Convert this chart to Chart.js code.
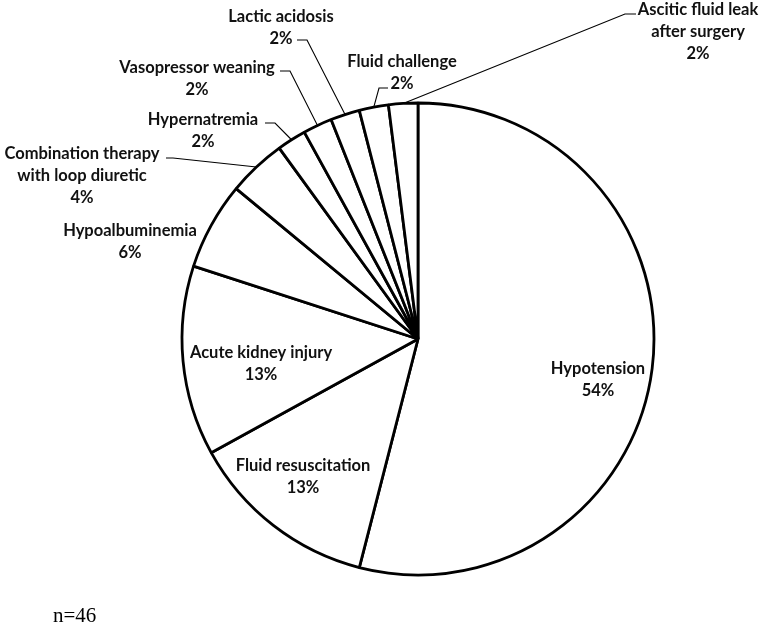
<!DOCTYPE html>
<html>
<head>
<meta charset="utf-8">
<script src="https://cdn.jsdelivr.net/npm/chart.js@4/dist/chart.umd.min.js"></script>
<style>
  html, body { margin: 0; padding: 0; background: #ffffff; }
  #c { display: block; }
</style>
</head>
<body>
<canvas id="c" width="760" height="624"></canvas>
<script>
// ---- data ----
const categories = [
  'Hypotension',
  'Fluid resuscitation',
  'Acute kidney injury',
  'Hypoalbuminemia',
  'Combination therapy\nwith loop diuretic',
  'Hypernatremia',
  'Vasopressor weaning',
  'Lactic acidosis',
  'Fluid challenge',
  'Ascitic fluid leak\nafter surgery'
];
const percentages = [54, 13, 13, 6, 4, 2, 2, 2, 2, 2];
const sampleNote = 'n=46';

// ---- label layout (offsets from pie centre, px) ----
const labelLayout = [
  { dx: 180,  dy: 41 },
  { dx: -115, dy: 138 },
  { dx: -157, dy: 25 },
  { dx: -288, dy: -97 },
  { dx: -336, dy: -163,   elbow: [-245, -181], end: [-252, -181] },
  { dx: -215, dy: -208.5, elbow: [-143, -216], end: [-153, -216] },
  { dx: -221, dy: -260.5, elbow: [-128, -268], end: [-138, -268] },
  { dx: -137, dy: -311,   elbow: [-111, -299], end: [-121, -299] },
  { dx: -16,  dy: -266.5, elbow: [-39, -251],  end: [-30, -251] },
  { dx: 280,  dy: -307,   elbow: [207, -325],  end: [218, -325] }
];

const labelPlugin = {
  id: 'pieLabels',
  afterDatasetsDraw(chart) {
    const ctx = chart.ctx;
    const arcs = chart.getDatasetMeta(0).data;
    ctx.save();
    arcs.forEach((arc, i) => {
      const p = arc.getProps(['x', 'y', 'startAngle', 'endAngle', 'outerRadius'], true);
      const cx = p.x, cy = p.y;
      const lay = labelLayout[i];
      if (lay.elbow) {
        const mid = (p.startAngle + p.endAngle) / 2;
        const ax = cx + Math.cos(mid) * p.outerRadius;
        const ay = cy + Math.sin(mid) * p.outerRadius;
        ctx.beginPath();
        ctx.moveTo(ax, ay);
        ctx.lineTo(cx + lay.elbow[0], cy + lay.elbow[1]);
        ctx.lineTo(cx + lay.end[0], cy + lay.end[1]);
        ctx.strokeStyle = '#000000';
        ctx.lineWidth = 1.1;
        ctx.stroke();
      }
      const lines = categories[i].split('\n').concat([percentages[i] + '%']);
      const lh = 22;
      const tx = cx + lay.dx;
      const ty0 = cy + lay.dy - (lines.length - 1) * lh / 2;
      ctx.fillStyle = '#111111';
      ctx.font = 'bold 16.5px Lato';
      ctx.textAlign = 'center';
      ctx.textBaseline = 'middle';
      lines.forEach((t, k) => ctx.fillText(t, tx, ty0 + k * lh));
    });
    // sample-size note
    ctx.font = '21px "Liberation Serif"';
    ctx.textAlign = 'left';
    ctx.textBaseline = 'alphabetic';
    ctx.fillStyle = '#000000';
    ctx.fillText(sampleNote, 53, 622);
    ctx.restore();
  }
};

new Chart(document.getElementById('c'), {
  type: 'pie',
  data: {
    labels: categories,
    datasets: [{
      data: percentages,
      backgroundColor: '#ffffff',
      borderColor: '#000000',
      borderWidth: 2.8,
      hoverOffset: 0
    }]
  },
  options: {
    responsive: false,
    animation: false,
    radius: 236,
    rotation: 0,
    layout: { padding: { left: 100, right: 24, top: 80, bottom: 26 } },
    plugins: {
      legend: { display: false },
      tooltip: { enabled: false }
    },
    events: []
  },
  plugins: [labelPlugin]
});
</script>
</body>
</html>
